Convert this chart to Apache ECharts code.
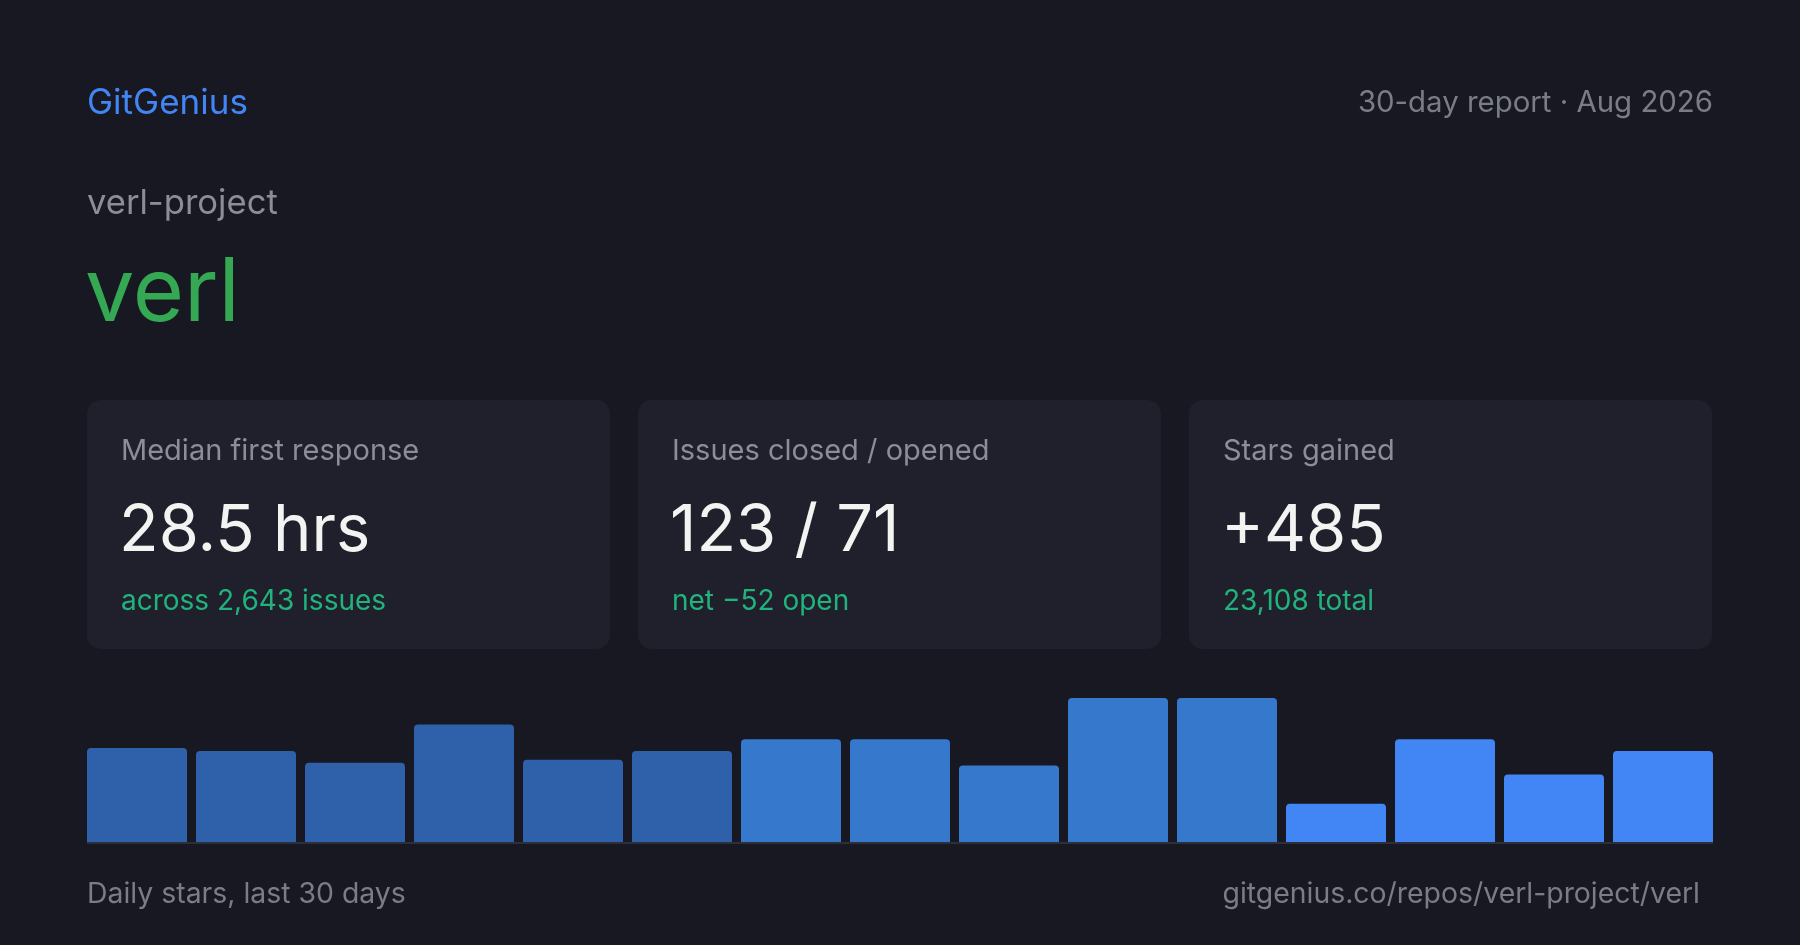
<!DOCTYPE html>
<html>
<head>
<meta charset="utf-8">
<script src="https://cdn.jsdelivr.net/npm/echarts@6/dist/echarts.min.js"></script>
<style>
  html, body { margin: 0; padding: 0; background: #171821; }
  #chart { width: 1800px; height: 945px; }
</style>
</head>
<body>
<div id="chart"></div>
<script>
// ---- data ----
const days = ['1','2','3','4','5','6','7','8','9','10','11','12','13','14','15'];
const dailyStars = [32, 31, 27, 40, 28, 31, 35, 35, 26, 49, 49, 13, 35, 23, 31];
const cardLabels = ['Median first response', 'Issues closed / opened', 'Stars gained'];
const cardValues = ['28.5 hrs', '123 / 71', '+485'];
const cardNotes = ['across 2,643 issues', 'net \u221252 open', '23,108 total'];

// ---- style ----
const FONT = 'Inter, "Noto Sans", sans-serif';
const shade = i => (i < 6 ? '#2f60aa' : (i < 11 ? '#3678cc' : '#4285f4'));

const chart = echarts.init(document.getElementById('chart'), null, { renderer: 'canvas' });

const graphics = [];
function txt(x, y, text, size, color, align) {
  graphics.push({
    type: 'text', x: x, y: y, z: 10,
    style: { text: text, fill: color, font: size + 'px ' + FONT, align: align || 'left', verticalAlign: 'middle' }
  });
}
txt(87, 103.5, 'GitGenius', 35, '#4285f4');
txt(1713, 103.5, '30-day report \u00b7 Aug 2026', 29.4, '#7a7c87', 'right');
txt(87, 204, 'verl-project', 34.6, '#8c8d97');
txt(85, 294.5, 'verl', 88, '#34a853');

const cardX = [87, 638, 1189];
cardX.forEach((cx, i) => {
  graphics.push({
    type: 'rect', z: 1,
    shape: { x: cx, y: 400, width: 523, height: 249, r: 14 },
    style: { fill: '#1f202b' }
  });
  txt(cx + 34, 451, cardLabels[i], 29, '#8c8d97');
  txt(cx + 32, 531, cardValues[i], 65, '#f3f3f1');
  txt(cx + 34, 602, cardNotes[i], 28, '#22b37c');
});

graphics.push({
  type: 'rect', z: 0,
  shape: { x: 87, y: 842, width: 1626, height: 2 },
  style: { fill: '#2c2e3a' }
});
txt(87, 894, 'Daily stars, last 30 days', 28.4, '#7a7c87');
txt(1700, 894, 'gitgenius.co/repos/verl-project/verl', 28.4, '#7a7c87', 'right');

chart.setOption({
  backgroundColor: '#171821',
  animation: false,
  grid: { left: 82.5, right: 82.5, top: 698, bottom: 103 },
  xAxis: {
    type: 'category', data: days,
    axisLine: { show: false }, axisTick: { show: false }, axisLabel: { show: false }
  },
  yAxis: {
    type: 'value', min: 0, max: 49,
    axisLine: { show: false }, axisTick: { show: false }, axisLabel: { show: false }, splitLine: { show: false }
  },
  series: [{
    type: 'bar',
    data: dailyStars.map((v, i) => ({ value: v, itemStyle: { color: shade(i) } })),
    barWidth: 100,
    itemStyle: { borderRadius: [4, 4, 0, 0] },
    z: 5
  }],
  graphic: graphics
});
</script>
</body>
</html>
